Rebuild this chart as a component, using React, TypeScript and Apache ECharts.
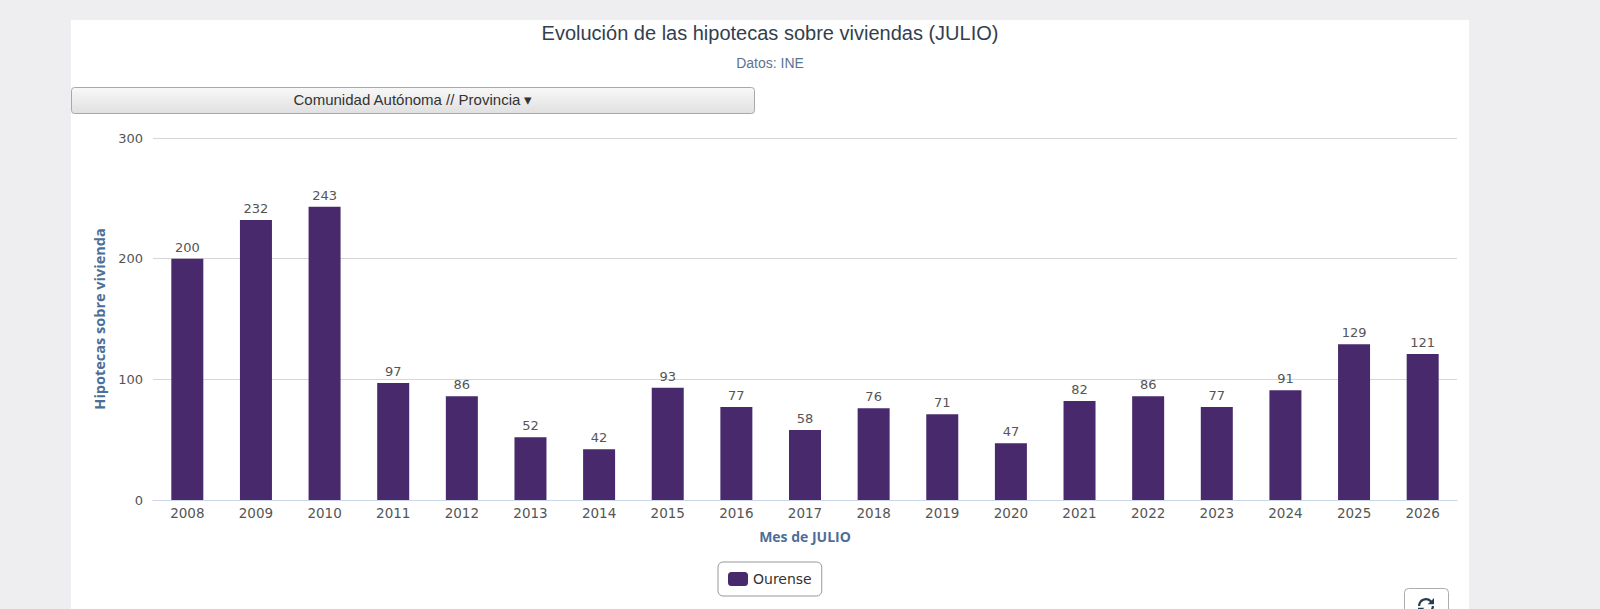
import { useEffect, useRef } from 'react';
import * as echarts from 'echarts';

const years = [
  '2008', '2009', '2010', '2011', '2012', '2013', '2014', '2015', '2016', '2017',
  '2018', '2019', '2020', '2021', '2022', '2023', '2024', '2025', '2026',
];
const ourense = [200, 232, 243, 97, 86, 52, 42, 93, 77, 58, 76, 71, 47, 82, 86, 77, 91, 129, 121];
const seriesName = 'Ourense';

const refreshPath =
  'M13.6 2.4A7.9 7.9 0 0 0 8 0C3.6 0 0 3.6 0 8h2.2A5.8 5.8 0 0 1 12 3.9L9.6 6.3H16V0z' +
  'M2.4 13.6A7.9 7.9 0 0 0 8 16c4.4 0 8-3.6 8-8h-2.2A5.8 5.8 0 0 1 4 12.1l2.4-2.4H0V16z';
echarts.graphic.registerShape('refreshIcon', echarts.graphic.extendPath(refreshPath, {}) as any);

const labelFont = '"DejaVu Sans", Verdana, sans-serif';
const nameFont = '"Open Sans", "DejaVu Sans", sans-serif';
const titleFont = '"Liberation Sans", Arial, sans-serif';

const HipotecasChart = () => {
  const chartRef = useRef<HTMLDivElement>(null);

  useEffect(() => {
    if (!chartRef.current) return;
    const chart = echarts.init(chartRef.current, undefined, { renderer: 'svg' });

    const option = {
      animation: false,
      backgroundColor: '#ffffff',
      title: {
        text: 'Evolución de las hipotecas sobre viviendas (JULIO)',
        subtext: 'Datos: INE',
        left: 'center',
        top: -2,
        itemGap: 13,
        textStyle: { fontFamily: titleFont, fontSize: 20, fontWeight: 'normal', color: '#333e4e' },
        subtextStyle: { fontFamily: titleFont, fontSize: 14, color: '#5b7491' },
      },
      legend: {
        data: [seriesName],
        left: 647,
        top: 542,
        padding: [10, 10],
        borderColor: '#999',
        borderWidth: 1,
        borderRadius: 5,
        icon: 'roundRect',
        itemWidth: 20,
        itemHeight: 14,
        itemGap: 6,
        textStyle: { fontFamily: labelFont, fontSize: 14, color: '#333' },
      },
      grid: { left: 82, right: 12, top: 118, bottom: 109 },
      xAxis: {
        type: 'category',
        data: years,
        name: 'Mes de JULIO',
        nameLocation: 'middle',
        nameGap: 29,
        nameTextStyle: { fontFamily: nameFont, fontSize: 14, fontWeight: 'bold', color: '#4d6e96' },
        axisLine: { lineStyle: { color: '#ccd6eb' } },
        axisTick: { length: 6, lineStyle: { color: '#ccd6eb' } },
        axisLabel: { fontFamily: labelFont, fontSize: 13.5, color: '#555', margin: 6 },
      },
      yAxis: {
        type: 'value',
        min: 0,
        max: 300,
        interval: 100,
        name: 'Hipotecas sobre vivienda',
        nameLocation: 'middle',
        nameRotate: 90,
        nameGap: 45,
        nameTextStyle: { fontFamily: nameFont, fontSize: 14.5, fontWeight: 'bold', color: '#4d6e96' },
        axisLine: { show: false },
        axisTick: { show: false },
        axisLabel: { fontFamily: labelFont, fontSize: 13, color: '#555', margin: 10 },
        splitLine: { lineStyle: { color: '#d6d6d6' } },
      },
      series: [
        {
          name: seriesName,
          type: 'bar',
          data: ourense,
          barWidth: 32,
          itemStyle: { color: '#47296c' },
          label: {
            show: true,
            position: 'top',
            distance: 5,
            fontFamily: labelFont,
            fontSize: 13,
            color: '#555',
          },
        },
      ],
      graphic: [
        {
          type: 'rect',
          shape: { x: 0.5, y: 67.5, width: 683, height: 26, r: 3 },
          style: {
            fill: new echarts.graphic.LinearGradient(0, 0, 0, 1, [
              { offset: 0, color: '#f8f8f8' },
              { offset: 1, color: '#e0e0e0' },
            ]),
            stroke: '#a8a8a8',
            lineWidth: 1,
          },
        },
        {
          type: 'text',
          x: 342,
          y: 79,
          style: {
            text: 'Comunidad Autónoma // Provincia ▾',
            fontFamily: titleFont,
            fontSize: 15,
            fill: '#333',
            align: 'center',
            verticalAlign: 'middle',
          },
        },
        {
          type: 'rect',
          shape: { x: 1333.5, y: 568.5, width: 44, height: 36, r: 4 },
          style: { fill: '#fff', stroke: '#adadad', lineWidth: 1 },
        },
        {
          type: 'refreshIcon',
          x: 1347,
          y: 578,
          scaleX: 1,
          scaleY: 1,
          style: { fill: '#2a3b56' },
        },
      ],
    };

    chart.setOption(option as any);

    return () => {
      chart.dispose();
    };
  }, []);

  return (
    <div style={{ position: 'fixed', left: 0, top: 0, width: 1600, height: 609, background: '#eeeef0', overflow: 'hidden' }}>
      <div ref={chartRef} style={{ position: 'absolute', left: 71, top: 20, width: 1398, height: 589 }} />
    </div>
  );
};

export default function App() {
  return <HipotecasChart />;
}
